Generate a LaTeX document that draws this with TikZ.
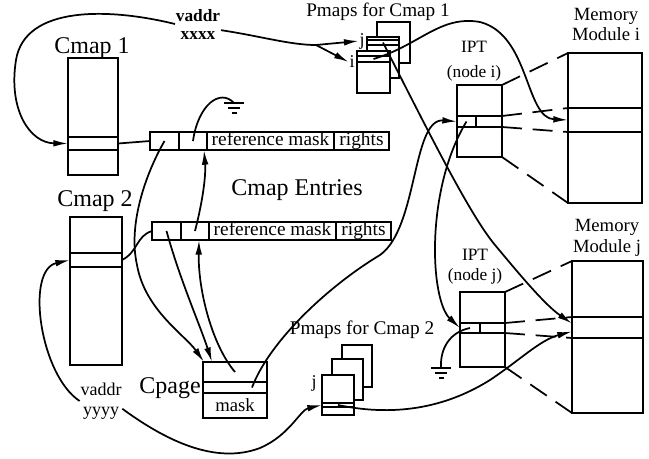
\documentclass[tikz,border=0pt]{standalone}
\usepackage{fontspec}
\setmainfont{Liberation Serif}
\usetikzlibrary{arrows.meta,positioning}
\newdimen\pxu
\pxu=0.75pt
\tikzset{
  ground/.pic={
    \draw[line width=1.3pt] (-10,0) -- (10,0) (-6,5) -- (6,5) (-2.5,10) -- (2.5,10);
  }
}

\begin{document}
\begin{tikzpicture}[
  x=0.75pt, y=-0.75pt,
  line width=1.3pt,
  box/.style={draw, line width=1.3pt, inner sep=0pt, outer sep=0pt},
  page/.style={box, fill=white},
  cell/.style={box, minimum height=18\pxu, text height=10pt, text depth=3pt,
               font=\fontsize{14.5}{16}\selectfont},
  big/.style={inner sep=0pt, font=\fontsize{18}{20}\selectfont},
  lbl/.style={inner sep=0pt, align=center, font=\fontsize{13.5}{15}\selectfont},
  arrow/.style={-{Latex[length=11pt,width=5pt]}},
  zoomline/.style={dash pattern=on 15pt off 8pt}
]
\useasboundingbox (0,0) rectangle (649,458);

% Cmaps
\node[big] (cmapAlbl) at (92,48) {Cmap 1};
\node[box, minimum width=50\pxu, minimum height=117\pxu] (cmapA) at (93,116.5) {};
\node[box, minimum width=50\pxu, minimum height=13\pxu] (cmapArow) at (93,143.5) {};
\node[big] (cmapBlbl) at (95,201) {Cmap 2};
\node[box, minimum width=52\pxu, minimum height=148\pxu] (cmapB) at (96,291) {};
\node[box, minimum width=52\pxu, minimum height=14\pxu] (cmapBrow) at (96,260) {};

% Cmap entries
\node[cell, minimum width=29\pxu] (entAp) at (164.5,141) {};
\node[cell, minimum width=28\pxu, right=0pt of entAp] (entAl) {};
\node[cell, minimum width=127\pxu, right=0pt of entAl] (entAm) {reference mask};
\node[cell, minimum width=55\pxu, right=0pt of entAm] (entAr) {rights};
\node[big] (entLbl) at (297,190) {Cmap Entries};
\node[cell, minimum width=29\pxu] (entBp) at (166.5,231) {};
\node[cell, minimum width=28\pxu, right=0pt of entBp] (entBl) {};
\node[cell, minimum width=127\pxu, right=0pt of entBl] (entBm) {reference mask};
\node[cell, minimum width=55\pxu, right=0pt of entBm] (entBr) {rights};
\coordinate (gndA) at (234,103);
\pic at (gndA) {ground};

% Cpage
\node[box, minimum width=64\pxu, minimum height=20\pxu] (cpA) at (235,372) {};
\node[box, minimum width=64\pxu, minimum height=11\pxu, below=0pt of cpA] (cpB) {};
\node[box, minimum width=64\pxu, minimum height=25\pxu, below=0pt of cpB,
      font=\fontsize{14}{16}\selectfont] (cpMask) {mask};
\node[big] (cpLbl) at (170,388) {Cpage};

% virtual addresses
\node[lbl, font=\bfseries\fontsize{13}{13.5}\selectfont] (vaddrX) at (198,24) {vaddr\\xxxx};
\node[lbl] (vaddrY) at (101,401) {vaddr\\yyyy};

% Pmaps for Cmap 1
\node[lbl, font=\fontsize{14.4}{16}\selectfont] (pmAlbl) at (378,12) {Pmaps for Cmap 1};
\node[page, minimum width=33\pxu, minimum height=41\pxu] (pmA3) at (393.5,42.5) {};
\node[page, minimum width=32\pxu, minimum height=41\pxu] (pmA2) at (383,57.5) {};
\node[box, minimum width=32\pxu, minimum height=5\pxu] (pmA2row) at (383,42.5) {};
\node[page, minimum width=33\pxu, minimum height=42\pxu] (pmA1) at (373.5,72) {};
\node[box, minimum width=33\pxu, minimum height=6\pxu] (pmA1row) at (373.5,59) {};
\node[lbl] (pmAj) at (362,41) {j};
\node[lbl] (pmAi) at (352,62) {i};

% Pmaps for Cmap 2
\node[lbl, font=\fontsize{14.5}{16}\selectfont] (pmBlbl) at (362,330) {Pmaps for Cmap 2};
\node[page, minimum width=30\pxu, minimum height=42\pxu] (pmB3) at (357,366) {};
\node[page, minimum width=31\pxu, minimum height=41\pxu] (pmB2) at (347.5,379.5) {};
\node[page, minimum width=32\pxu, minimum height=40\pxu] (pmB1) at (338,395) {};
\node[box, minimum width=32\pxu, minimum height=4\pxu] (pmB1row) at (338,405) {};
\node[lbl] (pmBj) at (314,383) {j};

% IPTs
\node[lbl, font=\fontsize{13}{19}\selectfont] (iptAlbl) at (474,61) {IPT\\(node i)};
\node[box, minimum width=45\pxu, minimum height=72\pxu] (iptA) at (479.5,121) {};
\node[box, minimum width=45\pxu, minimum height=11\pxu] (iptArow) at (479.5,121.5) {};
\node[box, minimum width=19\pxu, minimum height=11\pxu, right=0pt of iptArow.west] (iptAcell) {};
\node[lbl, font=\fontsize{13}{15}\selectfont] (iptBlbl) at (475,267) {IPT\\(node j)};
\node[box, minimum width=45\pxu, minimum height=75\pxu] (iptB) at (482.5,329.5) {};
\node[box, minimum width=45\pxu, minimum height=10\pxu] (iptBrow) at (482.5,328) {};
\node[box, minimum width=20\pxu, minimum height=10\pxu, right=0pt of iptBrow.west] (iptBcell) {};
\coordinate (gndB) at (441,368);
\pic at (gndB) {ground};

% Memory modules
\node[lbl, font=\fontsize{14}{15}\selectfont] (memAlbl) at (606,24) {Memory\\Module i};
\node[box, minimum width=74\pxu, minimum height=150\pxu] (memA) at (605,128) {};
\node[box, minimum width=74\pxu, minimum height=24\pxu] (memArow) at (605,120) {};
\node[lbl, font=\fontsize{14}{15.5}\selectfont] (memBlbl) at (607,238) {Memory\\Module j};
\node[box, minimum width=71\pxu, minimum height=152\pxu] (memB) at (607.5,337) {};
\node[box, minimum width=71\pxu, minimum height=21\pxu] (memBrow) at (607.5,327.5) {};

% IPT to memory
\draw[zoomline] (iptA.north east) -- (memA.north west);
\draw[zoomline] (iptArow.north east) -- (memArow.north west);
\draw[zoomline] (iptArow.south east) -- (memArow.south west);
\draw[zoomline] (iptA.south east) -- (memA.south west);
\draw[zoomline] (iptB.north east) -- (memB.north west);
\draw[zoomline] (iptBrow.north east) -- (memBrow.north west);
\draw[zoomline] (iptBrow.south east) -- (memBrow.south west);
\draw[zoomline] (iptB.south east) -- (memB.south west);

% Cmaps to entries
\draw[arrow] (vaddrX.west) .. controls (110,8) and (25,5) .. (16,60)
  .. controls (8,110) and (30,143) .. (cmapArow.west);
\draw[arrow] (vaddrY.west) .. controls (40,375) and (25,270) .. (cmapBrow.west);
\draw (cmapArow.east) -- (entAp.west);
\draw (cmapBrow.east) .. controls (138,252) and (136,236) .. (entBp.west);

% entries and Cpage
\draw[arrow] (entAp.center) .. controls (145,175) and (128,225) .. (137,265)
  .. controls (145,310) and (185,335) .. ([xshift=1\pxu]cpA.north west);
\draw[arrow] (entBp.center) .. controls (180,280) and (200,325) .. ([xshift=9\pxu]cpA.north west);
\draw[arrow] (cpA.center) .. controls (212,345) and (198,290) .. ([xshift=4\pxu]entBl.south);
\draw[arrow] (entBl.center) .. controls (203,200) and (206,175) .. ([xshift=11\pxu]entAl.south);
\draw (entAl.center) .. controls (198,105) and (220,88) .. (gndA);

% Cpage to IPT chain
\draw[arrow] ([xshift=17\pxu]cpB.center) .. controls (270,340) and (330,285) .. (380,255)
  .. controls (418,228) and (412,118) .. (iptArow.west);
\draw[arrow] (iptAcell.center) .. controls (425,190) and (430,300) .. (iptBrow.west);
\draw (iptBcell.center) .. controls (450,332) and (440,348) .. (gndB);

% vaddr to pmaps
\coordinate (xfork) at (316,45);
\draw (vaddrX.-15) .. controls (260,36) and (290,45) .. (xfork);
\draw[arrow] (xfork) -- (pmAj.west);
\draw[arrow] (xfork) -- (pmAi.west);
\draw[arrow] (vaddrY.-20) .. controls (165,440) and (215,465) .. (260,448)
  .. controls (290,435) and (300,410) .. (pmB1row.west);

% pmaps to memory
\draw[arrow] (pmA1row.center) .. controls (420,45) and (440,15) .. (480,22)
  .. controls (530,35) and (525,118) .. (memArow.west);
\draw[arrow] (pmA2row.center) .. controls (430,135) and (470,215) .. (495,245)
  .. controls (520,275) and (545,305) .. ([yshift=4\pxu]memBrow.west);
\draw[arrow] (pmB1row.center) .. controls (400,418) and (450,405) .. (490,380)
  .. controls (520,360) and (540,340) .. ([yshift=-4\pxu]memBrow.west);

\end{tikzpicture}
\end{document}
